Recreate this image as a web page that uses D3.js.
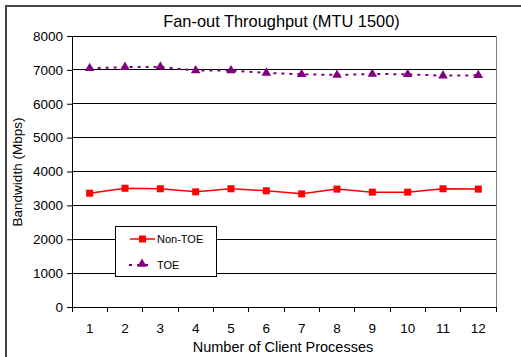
<!DOCTYPE html>
<html><head><meta charset="utf-8">
<script src="https://cdn.jsdelivr.net/npm/d3@7"></script>
<style>body{margin:0;background:#fff}svg{display:block;font-family:"Liberation Sans",Arial,sans-serif}</style>
</head><body><svg id="c" width="521" height="357"></svg>
<script>
const categories = ["1","2","3","4","5","6","7","8","9","10","11","12"];
const nonToe = [3360,3505,3490,3400,3490,3430,3340,3480,3390,3390,3490,3480];
const toe = [7050,7080,7090,6980,6980,6910,6870,6850,6880,6870,6830,6840];
const yTicks = [0,1000,2000,3000,4000,5000,6000,7000,8000];
const seriesNames = ["Non-TOE","TOE"];

const svg = d3.select("#c");
const L=72, R=496, T=36, B=307;
const x = d3.scaleBand().domain(categories).range([L,R]);
const y = d3.scaleLinear().domain([0,8000]).range([B,T]);

// outer frame
svg.append("path").attr("d","M6,357 V6 H521").attr("fill","none").attr("stroke","#444").attr("stroke-width",2);

// gridlines
svg.append("g").selectAll("line").data(yTicks.slice(1)).join("line")
  .attr("x1",L).attr("x2",R).attr("y1",d=>y(d)).attr("y2",d=>y(d))
  .attr("stroke","#000").attr("stroke-width",1).attr("shape-rendering","crispEdges");
// right border
svg.append("line").attr("x1",R).attr("x2",R).attr("y1",T).attr("y2",B)
  .attr("stroke","#808080").attr("stroke-width",1).attr("shape-rendering","crispEdges");

// y axis
const ya = svg.append("g").attr("transform",`translate(${L},0)`)
  .call(d3.axisLeft(y).tickValues(yTicks).tickFormat(d3.format("d")).tickSize(5).tickSizeOuter(0).tickPadding(4));
ya.select(".domain").attr("stroke","#000");
ya.selectAll("text").attr("font-size",13.5).attr("fill","#000").attr("font-family","Liberation Sans, Arial, sans-serif");
ya.selectAll("line").attr("stroke","#000");

// x axis: ticks between categories
const xa = svg.append("g").attr("transform",`translate(0,${B})`);
xa.append("line").attr("x1",L).attr("x2",R).attr("y1",0).attr("y2",0).attr("stroke","#000").attr("shape-rendering","crispEdges");
const bounds = categories.map(c=>x(c)).concat([R]);
xa.selectAll("line.t").data(bounds).join("line").attr("class","t")
  .attr("x1",d=>d).attr("x2",d=>d).attr("y1",0).attr("y2",5).attr("stroke","#000").attr("shape-rendering","crispEdges");
xa.selectAll("text").data(categories).join("text")
  .attr("x",d=>x(d)+x.bandwidth()/2).attr("y",26).attr("text-anchor","middle")
  .attr("font-size",13.5).text(d=>d);

// titles
svg.append("text").attr("x",281.5).attr("y",27).attr("text-anchor","middle").attr("font-size",16.4).text("Fan-out Throughput (MTU 1500)");
svg.append("text").attr("x",283).attr("y",352).attr("text-anchor","middle").attr("font-size",14.5).text("Number of Client Processes");
svg.append("text").attr("transform","translate(22,172) rotate(-90)").attr("text-anchor","middle").attr("font-size",13.5).text("Bandwidth (Mbps)");

const cx = d=>x(d)+x.bandwidth()/2;
const line = d3.line().x((d,i)=>cx(categories[i])).y(d=>y(d));

// TOE series
svg.append("path").datum(toe).attr("d",line).attr("fill","none")
  .attr("stroke","#800080").attr("stroke-width",2).attr("stroke-dasharray","3,5");
const tri = d3.symbol().type(d3.symbolTriangle).size(40);
svg.append("g").selectAll("path").data(toe).join("path")
  .attr("transform",(d,i)=>`translate(${cx(categories[i])},${y(d)})`).attr("d",tri).attr("fill","#800080");

// Non-TOE series
svg.append("path").datum(nonToe).attr("d",line).attr("fill","none").attr("stroke","#ff0000").attr("stroke-width",1.5);
svg.append("g").selectAll("rect").data(nonToe).join("rect")
  .attr("x",(d,i)=>cx(categories[i])-3.5).attr("y",d=>y(d)-3.5).attr("width",7).attr("height",7).attr("fill","#ff0000");

// legend
const lg = svg.append("g");
lg.append("rect").attr("x",115.5).attr("y",226.5).attr("width",101).attr("height",50).attr("fill","#fff").attr("stroke","#000");
lg.append("line").attr("x1",130).attr("x2",155).attr("y1",239).attr("y2",239).attr("stroke","#ff0000").attr("stroke-width",1.5);
lg.append("rect").attr("x",139).attr("y",235.5).attr("width",7).attr("height",7).attr("fill","#ff0000");
lg.append("text").attr("x",157).attr("y",243).attr("font-size",11).text(seriesNames[0]);
lg.append("line").attr("x1",129).attr("x2",152).attr("y1",265).attr("y2",265).attr("stroke","#800080").attr("stroke-width",2).attr("stroke-dasharray","3,5");
lg.append("path").attr("transform","translate(142,264)").attr("d",tri).attr("fill","#800080");
lg.append("text").attr("x",157).attr("y",269).attr("font-size",11).text(seriesNames[1]);
</script></body></html>
